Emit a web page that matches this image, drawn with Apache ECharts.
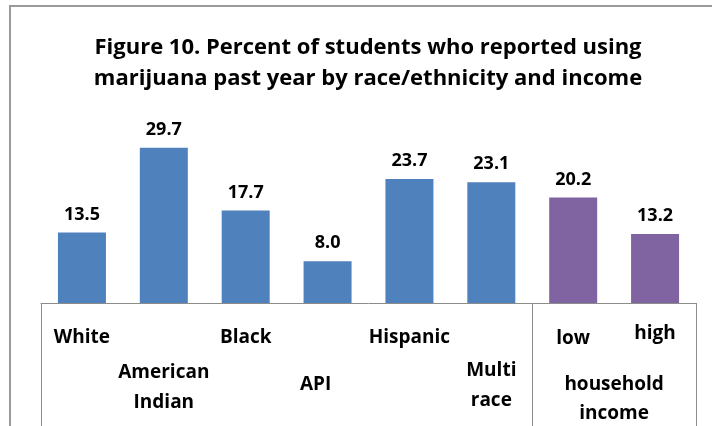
<!DOCTYPE html>
<html>
<head>
<meta charset="utf-8">
<script src="https://cdn.jsdelivr.net/npm/echarts@6/dist/echarts.min.js"></script>
<style>html,body{margin:0;padding:0;background:#fff}#c{width:712px;height:426px}</style>
</head>
<body>
<div id="c"></div>
<script>
var categories = ['White', 'American\nIndian', 'Black', 'API', 'Hispanic', 'Multi\nrace', 'low', 'high'];
var values = [13.5, 29.7, 17.7, 8.0, 23.7, 23.1, 20.2, 13.2];
var groups = ['race', 'race', 'race', 'race', 'race', 'race', 'income', 'income'];
var groupTitle = 'household\nincome';
var titleText = 'Figure 10. Percent of students who reported using\nmarijuana past year by race/ethnicity and income';

var colors = { race: '#4F81BD', income: '#8064A2' };
var labelPad = [[4,0,0,0],[39,0,0,0],[4,0,0,0],[51,24,0,0],[4,0,0,0],[37,0,0,0],[5,0,0,0],[0,0,0,0]];
var FONT = 'Open Sans';

var chart = echarts.init(document.getElementById('c'), null, { renderer: 'canvas' });
chart.setOption({
  animation: false,
  backgroundColor: '#fff',
  graphic: [{
    type: 'rect', shape: { x: 10, y: 6, width: 800, height: 600 },
    style: { fill: 'none', stroke: '#9a9a9a', lineWidth: 2 }, silent: true, z: -1
  }],
  title: {
    text: titleText, left: 363, textAlign: 'center', top: 27,
    textStyle: { fontFamily: FONT, fontWeight: 'bold', fontSize: 22, lineHeight: 31, color: '#000' }
  },
  grid: { left: 41, right: 16, top: 120, bottom: 123, containLabel: false, outerBoundsMode: 'none' },
  xAxis: [{
    type: 'category',
    data: categories.map(function (c, i) { return { value: c, textStyle: { padding: labelPad[i] } }; }),
    position: 'bottom',
    axisLine: { show: false }, axisTick: { show: false },
    axisLabel: { interval: 0, margin: 16, fontFamily: FONT, fontWeight: 'bold', fontSize: 19, lineHeight: 30, color: '#000' }
  }, {
    type: 'value', min: 0, max: categories.length, position: 'bottom',
    axisLine: { show: true, onZero: false, lineStyle: { color: '#8c8c8c', width: 1 } },
    axisTick: { show: true, customValues: [0, 6, 8], length: 130, lineStyle: { color: '#8c8c8c', width: 1 } },
    axisLabel: { show: true, customValues: [7], formatter: function () { return groupTitle; },
      margin: 67, fontFamily: FONT, fontWeight: 'bold', fontSize: 19, lineHeight: 29, color: '#000' },
    splitLine: { show: false }
  }],
  yAxis: { type: 'value', min: 0, max: 35, show: false, splitLine: { show: false } },
  series: [{
    type: 'bar', xAxisIndex: 0, barWidth: 48,
    data: values.map(function (v, i) { return { value: v, itemStyle: { color: colors[groups[i]] } }; }),
    label: { show: true, position: 'top', distance: 9, formatter: function (p) { return p.value.toFixed(1); },
      fontFamily: FONT, fontWeight: 'bold', fontSize: 18, color: '#000' }
  }]
});
</script>
</body>
</html>
